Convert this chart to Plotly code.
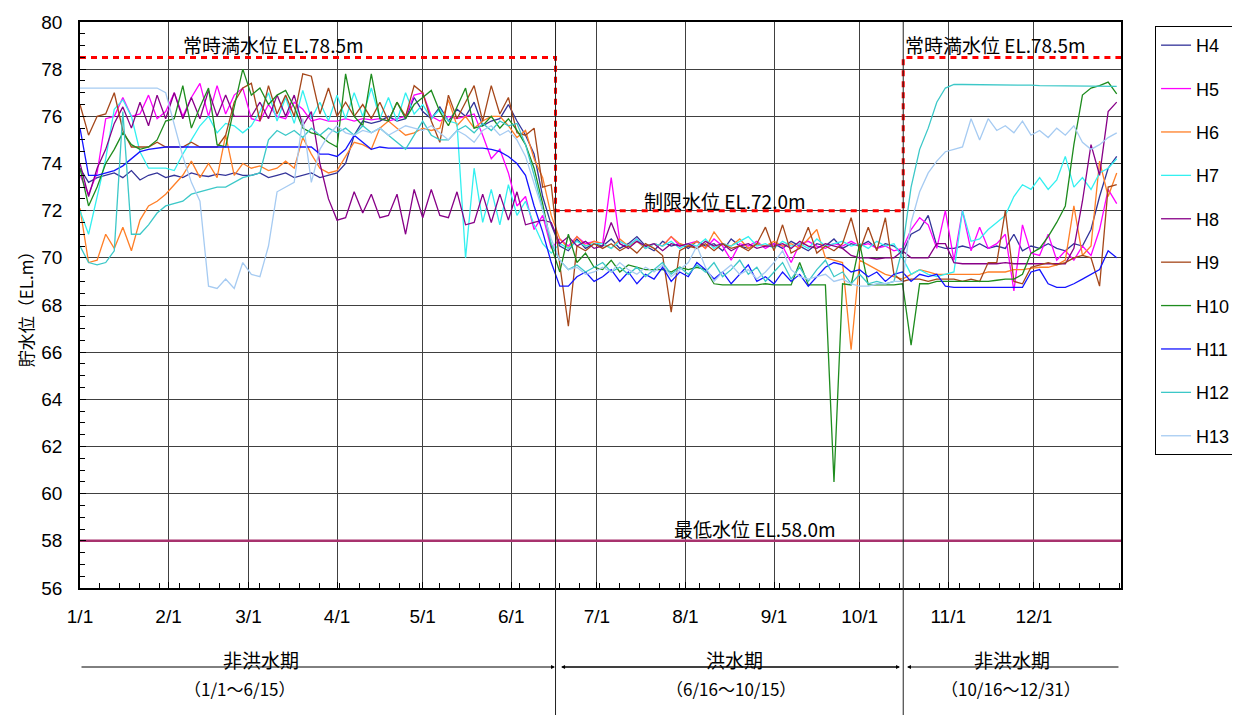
import pandas as pd
import plotly.graph_objects as go

# ---------------- data (sampled every 3 days, 1/1 .. 12/30) ----------------
dates = pd.date_range("2023-01-01", periods=122, freq="3D")

H4 = [73.8,73.2,73.4,73.5,73.6,73.4,73.7,73.3,73.5,73.6,73.4,
      73.5,73.4,73.6,73.5,73.45,73.55,73.5,73.6,73.5,
      73.5,73.6,73.4,73.5,73.6,73.4,73.5,73.6,73.4,73.5,
      73.6,74.0,75.2,75.8,75.7,75.8,76.0,75.8,75.9,76.8,
      76.2,75.9,76.4,75.8,76.3,76.0,76.6,75.6,75.8,75.9,76.5,
      75.8,75.2,74.4,72.6,71.4,70.5,70.3,70.8,70.4,70.6,
      70.5,70.8,70.4,70.6,70.9,70.5,70.3,70.7,70.5,70.6,
      70.4,70.7,70.5,70.6,70.3,70.8,70.5,70.4,70.6,70.5,
      70.6,70.4,70.7,70.5,70.3,70.6,70.5,70.8,70.4,70.6,
      70.5,70.7,70.4,70.6,70.5,70.2,71.0,71.2,71.8,70.5,70.4,
      70.4,70.5,70.4,70.6,70.4,70.5,70.4,71.0,70.3,70.5,
      70.4,70.6,70.4,70.3,70.6,70.5,71.2,72.6,73.8,74.3]

H5 = [73.5,72.7,73.6,75.9,76.0,76.8,76.0,76.1,76.9,75.9,76.2,
      77.0,76.0,76.8,77.4,76.0,77.3,76.1,76.9,77.2,
      75.9,75.8,76.5,76.0,75.9,76.6,76.3,75.8,75.9,75.8,
      75.8,75.9,75.8,75.9,75.85,75.9,75.8,75.9,76.0,76.9,
      77.0,76.0,75.8,76.0,75.9,76.0,76.1,75.2,74.2,74.6,73.6,
      72.2,72.6,71.2,71.8,70.4,70.8,70.5,70.9,70.6,70.7,
      70.6,73.4,70.7,70.5,70.8,70.4,70.6,70.5,70.9,70.5,
      70.6,70.7,70.4,70.8,70.5,69.9,70.6,70.5,70.7,70.4,
      70.6,70.5,69.8,70.6,70.7,70.5,70.4,70.6,70.5,70.7,
      70.5,70.6,70.4,70.5,70.3,70.4,71.2,71.7,71.4,70.4,72.0,
      69.9,72.0,70.3,71.3,70.4,70.6,71.0,68.6,71.4,70.2,
      70.1,71.0,69.9,70.3,69.9,70.5,70.1,71.2,72.9,72.3]

H6 = [72.1,69.8,69.9,71.0,70.4,71.3,70.3,71.6,72.2,72.4,72.7,
      73.1,73.5,74.1,73.4,74.0,73.4,75.2,73.5,74.0,
      73.8,73.9,73.7,73.8,74.1,73.8,75.1,74.4,73.8,73.6,
      73.7,74.3,74.9,74.8,74.6,75.5,75.8,75.5,75.2,75.3,
      75.5,75.4,75.5,76.7,75.6,76.0,75.5,75.8,76.0,76.0,75.6,
      75.1,75.4,74.2,73.4,71.8,70.8,70.4,70.9,70.5,70.7,
      70.6,70.4,70.8,70.5,70.7,70.4,70.6,70.5,70.9,70.6,
      70.5,70.7,70.4,71.1,70.6,70.5,70.8,70.4,70.6,70.5,
      70.7,70.5,70.6,70.4,70.8,71.2,70.0,69.9,69.8,66.1,
      69.9,69.7,69.5,69.3,69.2,69.1,69.3,69.5,69.4,69.3,69.3,
      69.3,69.3,69.3,69.3,69.4,69.4,69.4,69.5,69.5,69.55,
      69.6,69.6,69.7,69.9,72.2,70.1,70.5,74.1,72.6,73.6]

H7 = [72.0,71.0,72.6,74.2,76.3,76.7,76.0,74.5,73.8,73.8,73.8,
      73.7,74.4,75.0,75.6,76.0,75.3,75.7,75.6,75.3,
      75.6,76.2,77.0,75.8,76.8,75.7,77.1,75.9,76.6,75.8,
      76.9,75.9,77.0,76.0,77.2,75.9,76.8,75.8,77.0,76.1,
      76.5,75.9,76.3,75.8,75.7,70.0,73.8,71.5,72.9,71.4,73.1,
      71.8,72.4,71.4,70.6,70.2,70.6,70.4,70.7,70.5,70.6,
      70.6,70.4,70.7,70.5,70.8,70.4,70.6,70.5,70.7,70.4,
      70.6,70.5,70.8,70.4,70.6,70.5,70.7,70.9,70.5,70.6,
      70.4,70.7,70.5,70.6,70.4,70.8,70.5,70.6,70.7,70.5,
      70.6,70.4,70.7,70.5,70.6,70.0,69.3,69.5,69.3,69.2,69.3,
      69.4,72.0,70.7,70.8,71.2,71.5,71.8,72.6,73.1,72.9,
      73.4,72.9,73.3,74.3,73.0,73.4,72.9,73.6,73.8,74.2]

H8 = [74.0,72.6,73.8,74.6,75.7,76.4,75.5,76.6,75.6,76.9,75.9,
      77.0,75.9,76.8,75.9,77.1,76.0,76.9,76.0,76.0,
      76.0,76.6,75.9,76.9,76.0,76.9,75.6,76.2,74.0,72.5,
      71.6,71.7,72.8,71.9,72.7,71.7,71.8,72.7,71.0,72.9,
      71.7,72.9,71.8,71.7,72.8,71.4,71.5,72.7,71.5,72.7,71.6,
      72.8,71.4,71.5,71.6,71.5,70.6,70.9,70.5,70.7,70.4,
      70.5,71.5,70.6,70.4,70.7,70.5,70.6,70.3,70.6,70.5,
      70.6,70.4,70.7,70.5,70.6,70.3,70.5,70.6,70.4,70.5,
      70.5,70.6,70.4,70.7,70.5,70.4,70.6,70.5,70.4,70.1,
      70.0,70.0,69.95,70.0,70.0,70.3,70.0,70.0,70.0,70.6,70.6,
      69.8,69.75,69.75,69.75,69.75,69.75,69.8,69.75,69.75,69.75,
      69.75,69.75,69.75,69.75,70.4,72.4,74.8,73.5,76.2,76.6]

H9 = [76.5,75.2,76.0,76.1,77.0,75.4,74.7,74.7,74.7,74.9,74.7,
      74.7,74.7,74.9,74.7,74.7,74.7,75.2,76.6,77.2,
      77.4,75.8,77.3,76.1,76.9,76.0,77.8,77.7,76.1,77.2,
      76.0,76.6,76.0,76.5,75.9,76.6,75.8,76.6,76.0,77.3,
      77.0,75.8,74.9,76.9,75.9,76.6,77.3,75.8,77.3,76.1,76.8,
      75.3,75.2,75.5,73.0,73.1,69.7,67.1,70.5,70.3,70.6,
      70.4,70.6,70.3,70.5,70.2,70.6,70.4,70.1,67.7,70.3,
      70.5,70.4,70.6,70.3,70.6,70.4,70.5,70.3,70.6,71.3,
      70.3,71.4,70.2,70.4,71.3,70.2,70.5,70.3,70.6,71.7,
      70.3,71.3,70.3,71.7,69.3,69.0,69.1,69.1,69.0,69.1,69.1,
      69.1,69.0,69.1,69.0,69.8,69.8,72.0,69.0,68.9,69.6,
      69.7,69.8,69.7,69.8,70.0,70.1,70.0,68.8,73.0,73.1]

H10 = [73.8,72.2,73.0,74.0,74.6,75.3,74.8,74.6,74.7,75.0,75.8,
       75.9,77.3,75.5,76.4,77.2,74.8,74.7,76.4,78.0,
       76.9,77.2,76.5,76.9,77.1,76.4,75.5,75.3,75.2,74.9,
       74.7,77.8,76.0,75.6,77.8,75.9,75.8,76.6,75.9,76.5,
       76.8,77.1,76.2,75.6,76.4,77.2,75.5,75.6,76.0,75.5,75.9,
       75.4,74.8,73.8,72.3,70.5,69.4,71.0,69.8,70.2,69.6,
       69.5,69.9,69.4,69.7,69.6,69.5,69.5,69.5,69.4,69.6,
       69.5,69.6,69.5,68.9,68.85,68.85,68.85,68.85,68.85,68.9,
       68.85,68.85,68.85,69.8,68.85,68.85,68.85,60.5,68.9,68.85,
       70.6,68.85,68.85,68.85,68.85,68.9,66.3,68.9,68.9,69.0,69.0,
       69.0,69.0,69.0,69.0,69.0,69.05,69.1,69.1,69.3,70.2,
       70.4,70.9,71.5,72.2,74.8,76.9,77.2,77.3,77.45,76.95]

H11 = [75.5,73.5,73.5,73.6,73.7,73.9,74.2,74.5,74.6,74.65,74.7,
       74.7,74.7,74.7,74.7,74.72,74.72,74.72,74.72,74.72,
       74.72,74.72,74.72,74.72,74.72,74.7,74.7,74.7,74.4,74.4,
       74.3,74.6,75.2,74.9,74.6,74.7,74.65,74.65,74.65,74.65,
       74.65,74.65,74.65,74.65,74.65,74.65,74.65,74.65,74.6,74.5,74.3,
       74.0,73.5,72.2,71.1,69.8,68.8,68.8,69.2,69.4,69.0,
       69.2,69.5,69.0,69.4,68.9,69.3,69.1,69.6,69.0,69.4,
       69.2,69.8,69.5,69.1,69.4,68.9,69.3,69.7,69.0,69.2,
       68.9,69.4,69.0,69.3,68.8,69.2,69.6,69.8,69.7,69.4,
       69.5,69.2,69.4,69.0,69.3,69.4,69.0,69.3,69.2,69.3,68.8,
       68.75,68.75,68.75,68.75,68.75,68.75,68.75,68.75,68.75,69.4,
       69.5,68.9,68.75,68.75,68.9,69.1,69.3,69.5,70.3,70.0]

H12 = [70.5,69.8,69.7,69.8,70.3,76.2,71.0,71.0,71.4,71.9,72.2,
       72.3,72.4,72.7,72.8,72.9,73.0,73.0,73.2,73.4,
       73.5,73.6,75.0,75.4,75.2,75.4,75.1,75.5,75.2,75.5,
       75.3,75.5,75.2,75.6,75.3,75.5,75.2,74.9,74.6,75.2,
       75.8,75.2,75.0,75.0,75.4,75.6,75.3,75.7,75.4,75.8,75.6,
       75.7,74.8,73.5,72.0,70.6,69.9,69.5,69.7,69.4,69.6,
       69.8,69.4,69.6,69.3,69.6,69.2,69.5,69.8,69.3,69.6,
       69.3,69.7,69.4,69.8,69.2,69.5,69.9,69.3,69.6,69.0,
       69.4,69.8,69.1,69.6,69.0,69.5,69.9,69.2,69.4,68.9,
       69.3,68.9,69.0,68.9,69.0,70.4,73.0,74.6,75.5,76.6,77.2,
       77.35,77.35,77.35,77.35,77.35,77.35,77.33,77.33,77.33,77.32,
       77.3,77.3,77.3,77.3,77.3,77.3,77.28,77.28,77.27,77.27]

H13 = [77.2,77.2,77.2,77.2,77.2,77.2,77.2,77.2,77.2,77.2,77.0,
       75.6,74.3,73.2,72.4,68.8,68.7,69.1,68.7,69.8,
       69.3,69.2,70.5,72.8,73.0,73.2,75.9,73.2,74.6,75.2,
       75.6,75.3,75.2,75.4,75.3,75.5,75.2,75.4,75.6,75.5,
       75.4,75.6,75.3,75.0,75.4,75.2,74.9,75.4,75.6,75.2,75.4,
       75.0,74.3,73.2,72.0,70.8,69.9,69.5,69.6,69.3,69.4,
       69.6,69.4,69.8,69.5,69.3,69.6,69.4,69.7,69.2,69.5,
       69.8,70.5,69.6,69.0,69.4,69.7,69.3,69.5,69.1,69.4,
       69.8,70.3,69.5,69.2,69.1,69.2,69.3,69.0,69.1,68.9,
       68.8,68.8,68.9,68.9,69.0,69.0,71.5,72.8,73.6,74.1,74.5,
       74.6,74.7,75.9,75.0,75.9,75.4,75.6,75.3,75.8,75.2,
       75.4,75.1,75.5,75.2,75.6,74.9,74.6,74.8,75.1,75.3]

series_names = ["H4", "H5", "H6", "H7", "H8", "H9", "H10", "H11", "H12", "H13"]
series_values = [H4, H5, H6, H7, H8, H9, H10, H11, H12, H13]
series_colors = ["#333399", "#FF00FF", "#FF7F27", "#33F0F0", "#880088",
                 "#A5471A", "#1E8C1E", "#1414FF", "#3CC8C8", "#A6CBF2"]

# reference levels and periods
full_level = 78.5      # 常時満水位
limit_level = 72.0     # 制限水位
min_level = 58.0       # 最低水位
year_start = "2023-01-01"
flood_start = "2023-06-16 12:00"
flood_end = "2023-10-16 06:00"
year_end = "2023-12-31 12:00"

month_ticks = pd.date_range("2023-01-01", periods=12, freq="MS")
month_labels = ["1/1", "2/1", "3/1", "4/1", "5/1", "6/1",
                "7/1", "8/1", "9/1", "10/1", "11/1", "12/1"]
week_ticks = pd.date_range("2023-01-01", "2023-12-31", freq="7D")

JP = "Noto Sans CJK JP, Noto Sans CJK SC, sans-serif"
LAT = "Liberation Sans, Arial, sans-serif"

fig = go.Figure()

# reference lines
fig.add_trace(go.Scatter(
    x=[year_start, flood_start, flood_start, flood_end, flood_end, year_end],
    y=[full_level, full_level, limit_level, limit_level, full_level, full_level],
    mode="lines", line=dict(color="#FF0000", width=3, dash="6px,5px"),
    showlegend=False, hoverinfo="skip"))
fig.add_trace(go.Scatter(
    x=[year_start, year_end], y=[min_level, min_level],
    mode="lines", line=dict(color="#A8326E", width=2.5),
    showlegend=False, hoverinfo="skip"))

for name, vals, col in zip(series_names, series_values, series_colors):
    fig.add_trace(go.Scatter(x=dates, y=vals, name=name, mode="lines",
                             legendgroup=name,
                             line=dict(color=col, width=1.3)))

# period boundary lines (extend below plot)
for b in [flood_start, flood_end]:
    fig.add_shape(type="line", xref="x", yref="paper", x0=b, x1=b,
                  y0=-0.225, y1=1, line=dict(color="#222222", width=1))

annos = []
def txt(t, x, y, size=19):
    annos.append(dict(text=t, x=x, y=y, xref="paper", yref="paper",
                      showarrow=False, font=dict(family=JP, size=size, color="black"),
                      xanchor="center", yanchor="middle"))

txt("常時満水位 EL.78.5m", 0.1854, 0.961)
txt("常時満水位 EL.78.5m", 0.879, 0.961)
txt("制限水位 EL.72.0m", 0.6196, 0.6855)
txt("最低水位 EL.58.0m", 0.6484, 0.106)
txt("非洪水期", 0.174, -0.1272)
txt("（1/1～6/15）", 0.154, -0.1767, 17)
txt("洪水期", 0.629, -0.1272)
txt("（6/16～10/15）", 0.6254, -0.1767, 17)
txt("非洪水期", 0.8953, -0.1272)
txt("（10/16～12/31）", 0.8943, -0.1767, 17)

ya = -0.1396
def arrow(xhead, tail_px):
    annos.append(dict(text="", x=xhead, y=ya, xref="paper", yref="paper",
                      ax=tail_px, ay=0, axref="pixel", ayref="pixel",
                      showarrow=True, arrowhead=2, arrowsize=0.8,
                      arrowwidth=1, arrowcolor="black"))
arrow(0.4563, -475)
arrow(0.4621, 339)
arrow(0.7877, -339)
arrow(0.7944, 213)

# page body has an 8px margin, so the figure is 8px smaller and offset
fig.update_layout(
    width=1232, height=707,
    margin=dict(l=72, r=119, t=14, b=127, autoexpand=False),
    paper_bgcolor="white", plot_bgcolor="white",
    font=dict(family=LAT, size=18, color="black"),
    annotations=annos,
    legend=dict(x=1.0327, y=0.993, xanchor="left", yanchor="top",
                bgcolor="white", bordercolor="black", borderwidth=1,
                font=dict(family=LAT, size=18, color="black"),
                tracegroupgap=17, itemwidth=30, maxheight=600),
    xaxis=dict(type="date", range=[year_start, year_end], automargin=False,
               tickvals=month_ticks, ticktext=month_labels,
               ticks="inside", ticklen=6, tickcolor="black",
               showgrid=True, gridcolor="#404040", gridwidth=1,
               showline=True, linecolor="black", linewidth=1.5, mirror=True,
               tickfont=dict(family=LAT, size=19), ticklabelstandoff=10,
               minor=dict(tickvals=week_ticks, ticks="inside", ticklen=5,
                          tickcolor="black", showgrid=False),
               zeroline=False),
    yaxis=dict(range=[56, 80], tick0=56, dtick=2, automargin=False,
               ticks="inside", ticklen=6, tickcolor="black",
               showgrid=True, gridcolor="#404040", gridwidth=1,
               showline=True, linecolor="black", linewidth=1.5, mirror=True,
               tickfont=dict(family=LAT, size=19), ticklabelstandoff=12,
               minor=dict(dtick=0.5, ticks="inside", ticklen=5,
                          tickcolor="black", showgrid=False),
               title=dict(text="貯水位（EL.m）", font=dict(family=JP, size=17),
                          standoff=3),
               zeroline=False),
)

fig.write_html("out.html")
